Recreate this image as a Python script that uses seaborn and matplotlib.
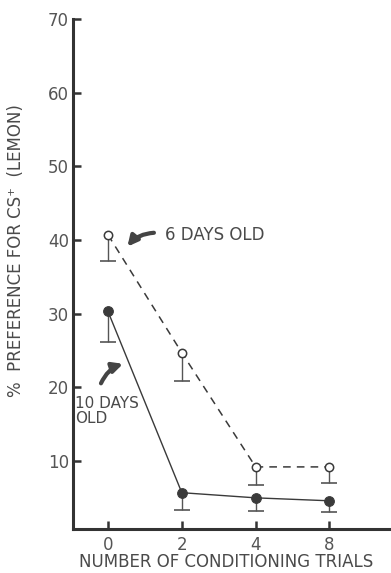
import matplotlib
matplotlib.use("Agg")
import matplotlib.pyplot as plt
import seaborn as sns
import pandas as pd
import numpy as np

trials = ["0", "2", "4", "8"]
days6_mean = [40.7, 24.7, 9.2, 9.2]
days6_low = [37.2, 20.9, 6.8, 7.0]
days10_mean = [30.3, 5.7, 5.0, 4.6]
days10_low = [26.1, 3.3, 3.2, 3.1]
yticks = [10, 20, 30, 40, 50, 60, 70]

sns.set_style("white")
plt.rcParams['font.family'] = ['DejaVu Sans']
TXT = "#4a4a4a"
LINE = "#3a3a3a"
FS = 12

pos = np.arange(len(trials))
df6 = pd.DataFrame({"pos": pos, "val": days6_mean})
df10 = pd.DataFrame({"pos": pos, "val": days10_mean})

fig = plt.figure(figsize=(3.91, 5.73), dpi=100)
ax = fig.add_axes([73/391, 1-529.3/573, 1-73/391, (529.3-19)/573])

# error bars (lower only)
for m, lo in ((days6_mean, days6_low), (days10_mean, days10_low)):
    ax.vlines(pos, lo, m, color="#555555", lw=1.0, zorder=2)
    ax.plot(pos, lo, ls="none", marker="_", ms=11, mew=1.2, color="#555555", zorder=2)

sns.lineplot(data=df6, x="pos", y="val", ax=ax, color=LINE, lw=1.1,
             dashes=False, linestyle=(0, (5, 4)), marker="o", ms=6,
             markerfacecolor="white", markeredgecolor=LINE, markeredgewidth=1.1, zorder=3)
sns.lineplot(data=df10, x="pos", y="val", ax=ax, color=LINE, lw=1.0,
             marker="o", ms=7, markerfacecolor=LINE, markeredgecolor=LINE, zorder=3)

ax.set_xlim(-0.474, 3.834)
ax.set_ylim(0.73, 70)
ax.set_xticks(pos)
ax.set_xticklabels(trials)
ax.set_yticks(yticks)
ax.set_yticklabels([str(v) for v in yticks])

for s in ("top", "right"):
    ax.spines[s].set_visible(False)
for s in ("left", "bottom"):
    ax.spines[s].set_linewidth(2.2)
    ax.spines[s].set_color("#333333")

ax.tick_params(axis="both", direction="in", length=6, width=1.8, color="#333333",
               labelsize=FS, labelcolor="#555555", left=True, bottom=True)
ax.tick_params(axis="y", pad=3)
ax.tick_params(axis="x", pad=5)

ax.set_xlabel("NUMBER OF CONDITIONING TRIALS", fontsize=FS, color=TXT)
ax.set_ylabel("%  PREFERENCE FOR CS\u207A  (LEMON)", fontsize=FS, color=TXT)
ax.yaxis.set_label_coords(-0.152, 0.547)
ax.xaxis.set_label_coords(0.48, -0.046)

ax.annotate("", xy=(0.24, 38.8), xytext=(0.66, 41.0),
            arrowprops=dict(arrowstyle="-|>,head_length=0.6,head_width=0.3",
                            connectionstyle="arc3,rad=0.25", color="#444444", lw=3.0))
ax.text(0.77, 40.7, "6 DAYS OLD", fontsize=FS, color=TXT, va="center", ha="left")

ax.annotate("", xy=(0.24, 23.3), xytext=(-0.11, 20.2),
            arrowprops=dict(arrowstyle="-|>,head_length=0.6,head_width=0.3",
                            connectionstyle="arc3,rad=-0.25", color="#444444", lw=3.0))
ax.text(-0.45, 16.8, "10 DAYS\nOLD", fontsize=11, color=TXT, va="center", ha="left",
        linespacing=0.95)

fig.savefig("out.png", dpi=100)
